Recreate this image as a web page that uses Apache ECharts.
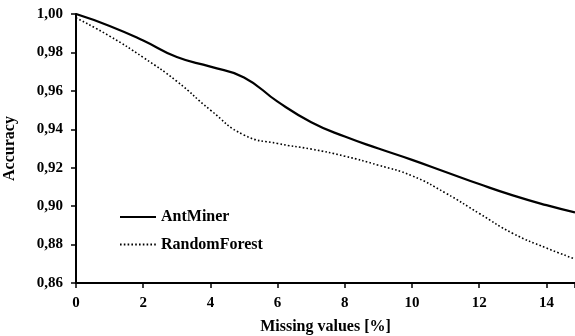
<!DOCTYPE html>
<html><head><meta charset="utf-8">
<script src="https://cdn.jsdelivr.net/npm/echarts@6/dist/echarts.min.js"></script>
<style>html,body{margin:0;padding:0;background:#fff}#c{width:575px;height:336px}</style>
</head><body><div id="c"></div>
<script>
const xValues = [0, 1, 2, 3, 4, 5, 6, 7, 8, 9, 10, 11, 12, 13, 14, 14.85];
const antMiner = [1.000, 0.9938, 0.9862, 0.9776, 0.9726, 0.9670, 0.9544, 0.9437, 0.9362, 0.9300, 0.9241, 0.9178, 0.9115, 0.9056, 0.9005, 0.8967];
const randomForest = [0.998, 0.9885, 0.9774, 0.9650, 0.9500, 0.9370, 0.9326, 0.9297, 0.9260, 0.9213, 0.9158, 0.9068, 0.8962, 0.8858, 0.8782, 0.8725];
const xTicks = [0, 2, 4, 6, 8, 10, 12, 14];
const yTicks = [0.86, 0.88, 0.90, 0.92, 0.94, 0.96, 0.98, 1.00];

const font = 'Liberation Serif';
const pairs = arr => xValues.map((x, i) => [x, arr[i]]);
const chart = echarts.init(document.getElementById('c'), null, {renderer: 'canvas'});
chart.setOption({
  animation: false,
  backgroundColor: '#fff',
  grid: {left: 76, top: 14, right: 0, bottom: 53, containLabel: false, outerBoundsMode: 'none'},
  legend: {
    orient: 'vertical', left: 119, top: 209, padding: 0, itemWidth: 36, itemHeight: 14, itemGap: 11.5,
    itemStyle: {opacity: 0},
    textStyle: {fontFamily: font, fontWeight: 'bold', fontSize: 16, color: '#000'},
    data: ['AntMiner', 'RandomForest']
  },
  xAxis: {
    type: 'value', min: 0, max: 14.85, interval: 2,
    name: 'Missing values [%]', nameLocation: 'middle', nameGap: 36,
    nameTextStyle: {fontFamily: font, fontWeight: 'bold', fontSize: 16, color: '#000'},
    axisLine: {show: true, lineStyle: {color: '#000', width: 2}},
    axisTick: {show: true, length: 5, lineStyle: {color: '#000', width: 1.5}},
    axisLabel: {fontFamily: font, fontWeight: 'bold', fontSize: 15, color: '#000', margin: 13,
      customValues: xTicks, formatter: v => String(v)},
    splitLine: {show: false}
  },
  yAxis: {
    type: 'value', min: 0.86, max: 1.00, interval: 0.02,
    name: 'Accuracy', nameLocation: 'middle', nameGap: 58, nameRotate: 90,
    nameTextStyle: {fontFamily: font, fontWeight: 'bold', fontSize: 16, color: '#000'},
    axisLine: {show: true, lineStyle: {color: '#000', width: 2}},
    axisTick: {show: true, length: 5, lineStyle: {color: '#000', width: 1.5}},
    axisLabel: {fontFamily: font, fontWeight: 'bold', fontSize: 15, color: '#000', margin: 13,
      customValues: yTicks, formatter: v => v.toFixed(2).replace('.', ',')},
    splitLine: {show: false}
  },
  series: [
    {name: 'AntMiner', type: 'line', data: pairs(antMiner), smooth: 0.5, symbol: 'none',
     lineStyle: {color: '#000', width: 2.2, type: 'solid'}, itemStyle: {color: '#000'}},
    {name: 'RandomForest', type: 'line', data: pairs(randomForest), smooth: 0.5, symbol: 'none',
     lineStyle: {color: '#000', width: 1.6, type: [1.6, 2.2]}, itemStyle: {color: '#000'}}
  ]
});
</script></body></html>
